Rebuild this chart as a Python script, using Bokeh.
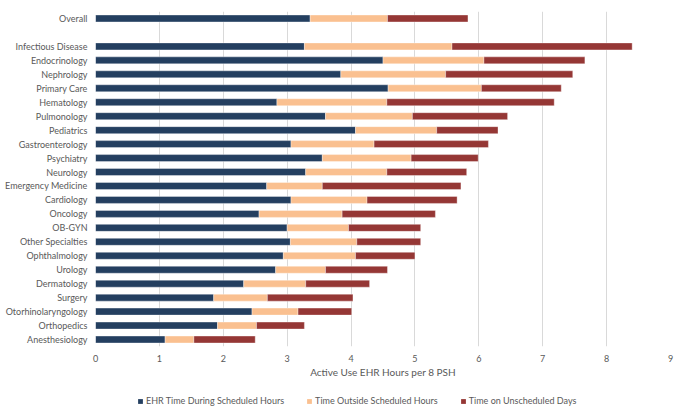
from bokeh.plotting import figure
from bokeh.models import ColumnDataSource, Legend, LegendItem, FixedTicker, Range1d, FactorRange
from bokeh.layouts import column
from bokeh.embed import file_html
from bokeh.resources import INLINE

categories = ["Overall", " ", "Infectious Disease", "Endocrinology", "Nephrology", "Primary Care",
              "Hematology", "Pulmonology", "Pediatrics", "Gastroenterology", "Psychiatry",
              "Neurology", "Emergency Medicine", "Cardiology", "Oncology", "OB-GYN",
              "Other Specialties", "Ophthalmology", "Urology", "Dermatology", "Surgery",
              "Otorhinolaryngology", "Orthopedics", "Anesthesiology"]
ehr_scheduled = [3.36, 0, 3.27, 4.50, 3.84, 4.58, 2.84, 3.60, 4.07, 3.06, 3.55, 3.29, 2.68,
                 3.06, 2.56, 3.00, 3.05, 2.94, 2.82, 2.32, 1.85, 2.45, 1.91, 1.09]
outside_scheduled = [1.21, 0, 2.31, 1.58, 1.64, 1.46, 1.72, 1.36, 1.27, 1.30, 1.39, 1.27, 0.87,
                     1.19, 1.30, 0.96, 1.04, 1.13, 0.78, 0.97, 0.84, 0.72, 0.61, 0.45]
unscheduled_days = [1.26, 0, 2.82, 1.58, 1.99, 1.25, 2.62, 1.49, 0.96, 1.79, 1.05, 1.25, 2.17,
                    1.41, 1.46, 1.13, 1.00, 0.93, 0.97, 1.00, 1.34, 0.84, 0.75, 0.96]
series_names = ["EHR Time During Scheduled Hours", "Time Outside Scheduled Hours",
                "Time on Unscheduled Days"]
colors = ["#243F60", "#FAC090", "#953735"]
x_ticks = list(range(0, 10))

src = ColumnDataSource(dict(cat=categories, a=ehr_scheduled, b=outside_scheduled, c=unscheduled_days))

p = figure(frame_width=575, frame_height=335,
           y_range=FactorRange(factors=list(reversed(categories)), range_padding=0),
           x_range=Range1d(0, 9), output_backend="svg", toolbar_location=None,
           min_border_left=95, min_border_right=15, min_border_top=11, min_border_bottom=38)

p.hbar_stack(["a", "b", "c"], y="cat", height=0.5, color=colors, source=src,
             line_color="white", line_width=0.6, line_alpha=0.6)

font = "Lato"
p.xaxis.ticker = FixedTicker(ticks=x_ticks)
p.xaxis.axis_label = "Active Use EHR Hours per 8 PSH"
for ax in (p.xaxis[0], p.yaxis[0]):
    ax.axis_line_color = None
    ax.major_tick_line_color = None
    ax.minor_tick_line_color = None
    ax.major_tick_out = 0
    ax.major_tick_in = 0
    ax.minor_tick_out = 0
    ax.minor_tick_in = 0
    ax.major_label_text_font = font
    ax.major_label_text_font_size = "9px"
    ax.major_label_text_color = "#595959"
p.xaxis.axis_label_text_font = font
p.xaxis.axis_label_text_font_size = "10px"
p.xaxis.axis_label_text_font_style = "normal"
p.xaxis.axis_label_text_color = "#595959"
p.xaxis.major_label_standoff = 8
p.xaxis.axis_label_standoff = 1
p.yaxis.major_label_standoff = 8

p.xgrid.grid_line_color = "#D9D9D9"
p.xgrid.grid_line_width = 1
p.ygrid.grid_line_color = None
p.outline_line_color = None

# Legend strip (separate small figure below the chart; its bars have zero height and lie outside view)
lg = figure(frame_width=575, height=32, x_range=Range1d(20, 21),
            y_range=FactorRange(factors=categories),
            output_backend="svg", toolbar_location=None,
            min_border_left=95, min_border_right=15, min_border_top=0, min_border_bottom=0)
lg.axis.visible = False
lg.grid.visible = False
lg.outline_line_color = None
lg_renderers = lg.hbar_stack(["a", "b", "c"], y="cat", height=0, color=colors, source=src,
                             line_color=None)
legend = Legend(items=[LegendItem(label=n, renderers=[r]) for n, r in zip(series_names, lg_renderers)],
                orientation="horizontal", location=(42, 10),
                label_text_font=font, label_text_font_size="9px", label_text_color="#595959",
                glyph_width=6, glyph_height=6, spacing=22, label_standoff=3,
                border_line_color=None, background_fill_alpha=0, padding=0, margin=0)
lg.add_layout(legend, "center")

layout = column(p, lg, spacing=0)

open("out.html", "w").write(file_html(layout, INLINE))
